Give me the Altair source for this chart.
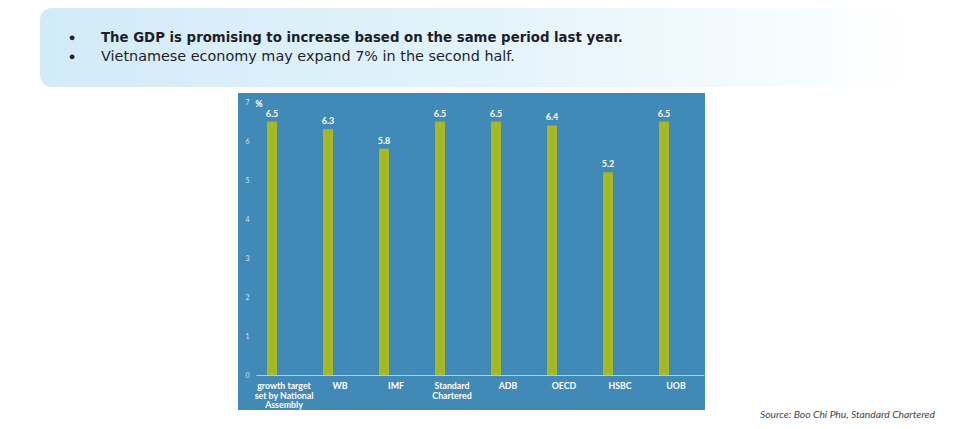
import altair as alt
import pandas as pd

categories = ["growth target set by National Assembly", "WB", "IMF", "Standard Chartered",
              "ADB", "OECD", "HSBC", "UOB"]
axis_labels = ["growth target\nset by National\nAssembly", "WB", "IMF", "Standard\nChartered",
               "ADB", "OECD", "HSBC", "UOB"]
values = [6.5, 6.3, 5.8, 6.5, 6.5, 6.4, 5.2, 6.5]
y_ticks = [0, 1, 2, 3, 4, 5, 6, 7]
bullets = ["The GDP is promising to increase based on the same period last year.",
           "Vietnamese economy may expand 7% in the second half."]
source = "Source: Boo Chi Phu, Standard Chartered"

df = pd.DataFrame({"cat": categories, "value": values, "lab": axis_labels,
                   "vtxt": [f"{v:.1f}" for v in values]})

W, H = 448, 273
FONT = "Lato"
HFONT = "DejaVu Sans"
PANEL = "#4189B6"
BAR = "#A6B826"

x_enc = alt.X("cat:N", sort=None,
              scale=alt.Scale(paddingInner=0, paddingOuter=0),
              axis=alt.Axis(labels=False, ticks=False, domain=True, domainColor="#a8cfe6",
                            domainWidth=1, title=None, grid=False, zindex=1))
y_enc = alt.Y("value:Q", scale=alt.Scale(domain=[0, 7], nice=False),
              axis=alt.Axis(values=y_ticks, domain=False, ticks=False, grid=False, title=None,
                            labelColor="#d5e7f2", labelFontSize=7, labelFont=FONT,
                            labelPadding=7, labelOverlap=False, labelBound=False,
                            labelFlush=False, zindex=1))

one = alt.Data(values=[{"a": 1}])

header_box = alt.Chart(one).mark_rect(
    cornerRadius=12,
    fill={"gradient": "linear", "x1": 0, "x2": 1, "y1": 0, "y2": 0,
          "stops": [{"offset": 0, "color": "#d2ebf8"},
                    {"offset": 0.5, "color": "#e2f3fb"},
                    {"offset": 1, "color": "#ffffff"}]},
).encode(x=alt.value(-216), x2=alt.value(650), y=alt.value(-94), y2=alt.value(-15))

panel = alt.Chart(one).mark_rect(color=PANEL).encode(
    x=alt.value(-18), x2=alt.value(449), y=alt.value(-9), y2=alt.value(308))

base = alt.Chart(df)
bars = base.mark_bar(width=10, xOffset=-12, color=BAR).encode(x=x_enc, y=y_enc)
vlabels = base.mark_text(xOffset=-12, dy=-3, baseline="bottom", color="white",
                         fontSize=9, fontWeight="bold", font=FONT).encode(
    x=x_enc, y=y_enc, text="vtxt:N")
xlabels = base.mark_text(baseline="top", color="white", fontSize=8.8, fontWeight="bold",
                         font=FONT, lineBreak="\n", lineHeight=9.5).encode(
    x=x_enc, y=alt.value(280), text="lab:N")

pct = alt.Chart(one).mark_text(text="%", color="white", fontSize=9, fontWeight="bold",
                               font=FONT).encode(x=alt.value(3), y=alt.value(2))

bul1 = alt.Chart(one).mark_text(text="●", fontSize=11, color="#222").encode(
    x=alt.value(-184), y=alt.value(-64))
bul2 = alt.Chart(one).mark_text(text="●", fontSize=11, color="#222").encode(
    x=alt.value(-184), y=alt.value(-45))
t1 = alt.Chart(one).mark_text(text=bullets[0], align="left", fontSize=13.3, fontWeight="bold",
                              color="#1e1e2a", font=HFONT).encode(x=alt.value(-155), y=alt.value(-64))
t2 = alt.Chart(one).mark_text(text=bullets[1], align="left", fontSize=14.4, fontWeight="normal",
                              color="#1e1e2a", font=HFONT).encode(x=alt.value(-155), y=alt.value(-45))
src = alt.Chart(one).mark_text(text=source, align="right", fontSize=10.3, fontStyle="italic",
                               color="#444444", font=FONT).encode(x=alt.value(679), y=alt.value(313))

chart = alt.layer(header_box, panel, bars, vlabels, xlabels, pct, bul1, bul2, t1, t2, src).properties(
    width=W, height=H,
    autosize=alt.AutoSizeParams(type="none"),
    padding={"left": 256, "top": 102, "right": 256, "bottom": 54},
    background="white",
).configure_view(strokeWidth=0).configure_axis(labelOverlap=False)

chart.save("out.html", embed_options={"renderer": "svg", "actions": False})
